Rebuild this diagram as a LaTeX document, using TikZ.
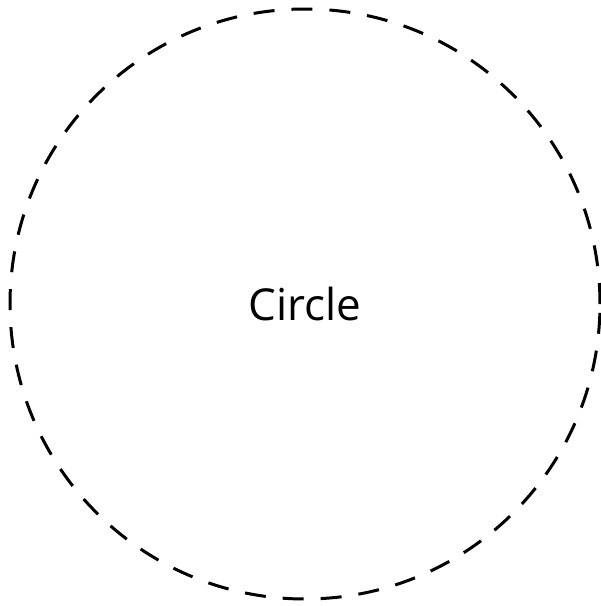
\documentclass[tikz,border=0pt]{standalone}
\usepackage{fontspec}
\setmainfont{Open Sans}
\usetikzlibrary{shapes.geometric}
\newcommand{\ringfont}{\linespread{1}\fontsize{44}{52}\selectfont}
\tikzset{
    ring/chart/.style={x=1pt, y=1pt, font=\ringfont},
    ring/outline/.style={circle, draw=black, line width=3pt, dash pattern=on 21pt off 17pt, minimum size=590pt, inner sep=0pt}
}
\begin{document}
\begin{tikzpicture}[ring/chart]
    \useasboundingbox (0,0) rectangle (601,-606);
    \node[ring/outline] (ring) at (305,-304) {};
    \node[inner sep=0pt] (label) at (ring.center) {Circle};
\end{tikzpicture}
\end{document}
